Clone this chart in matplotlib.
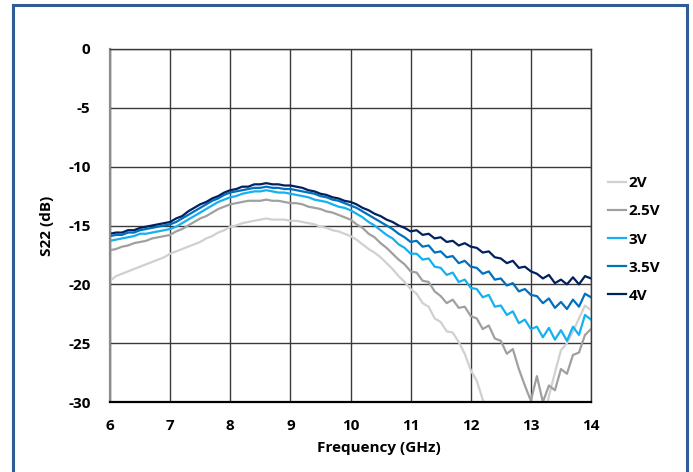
import numpy as np
import matplotlib
matplotlib.use("Agg")
import matplotlib.pyplot as plt
from matplotlib.patches import Rectangle

plt.rcParams["font.family"] = ["Open Sans", "DejaVu Sans"]
plt.rcParams["axes.unicode_minus"] = False

# frequency grid (GHz), one reading every 0.1 GHz
freq = np.round(np.arange(6.0, 14.001, 0.1), 1)

s22_2v = [
    -19.7, -19.3, -19.1, -18.9, -18.7, -18.5, -18.3, -18.1, -17.9, -17.7,
    -17.4, -17.2, -17.0, -16.8, -16.6, -16.4, -16.1, -15.9, -15.6, -15.4,
    -15.1, -15.0, -14.8, -14.7, -14.6, -14.5, -14.4, -14.5, -14.5, -14.5,
    -14.6, -14.6, -14.7, -14.8, -14.9, -15.1, -15.2, -15.4, -15.5, -15.7,
    -15.9, -16.2, -16.6, -17.0, -17.3, -17.7, -18.2, -18.7, -19.3, -19.8,
    -20.4, -20.8, -21.6, -21.9, -22.9, -23.2, -24.0, -24.1, -24.9, -25.9,
    -27.3, -28.2, -29.8, -31.5, -32.5, -33.0, -33.0, -33.0, -33.0, -33.0,
    -33.0, -32.5, -32.0, -29.5, -27.5, -25.6, -25.0, -24.0, -22.9, -21.8,
    -22.2,
]
s22_25v = [
    -17.1, -17.0, -16.8, -16.7, -16.5, -16.4, -16.3, -16.1, -16.0, -15.9,
    -15.8, -15.5, -15.3, -15.0, -14.7, -14.4, -14.2, -13.9, -13.6, -13.4,
    -13.2, -13.1, -13.0, -12.9, -12.9, -12.9, -12.8, -12.9, -12.9, -13.0,
    -13.1, -13.1, -13.2, -13.4, -13.5, -13.6, -13.8, -13.9, -14.1, -14.3,
    -14.5, -14.9, -15.2, -15.7, -16.0, -16.5, -16.9, -17.4, -17.9, -18.3,
    -18.9, -19.0, -19.7, -19.8, -20.6, -21.0, -21.6, -21.3, -22.0, -21.9,
    -22.7, -22.9, -23.8, -23.5, -24.6, -24.8, -25.9, -25.5, -27.2, -28.6,
    -29.9, -27.8, -30.0, -28.6, -29.0, -27.2, -27.6, -26.0, -25.8, -24.3,
    -23.8,
]
s22_3v = [
    -16.3, -16.2, -16.1, -16.0, -15.9, -15.7, -15.7, -15.6, -15.5, -15.4,
    -15.3, -15.1, -14.8, -14.5, -14.2, -13.9, -13.6, -13.3, -13.0, -12.8,
    -12.6, -12.5, -12.3, -12.2, -12.1, -12.1, -12.0, -12.1, -12.2, -12.2,
    -12.3, -12.4, -12.5, -12.6, -12.8, -12.9, -13.0, -13.2, -13.4, -13.5,
    -13.7, -14.0, -14.3, -14.7, -15.0, -15.4, -15.8, -16.1, -16.6, -16.9,
    -17.4, -17.4, -17.9, -17.8, -18.5, -18.6, -19.2, -19.0, -19.8, -19.6,
    -20.3, -20.4, -21.1, -20.9, -21.9, -21.8, -22.6, -22.3, -23.3, -23.0,
    -23.8, -23.6, -24.5, -23.7, -24.7, -23.9, -24.8, -23.6, -24.3, -22.6,
    -23.0,
]
s22_35v = [
    -15.9, -15.8, -15.8, -15.6, -15.6, -15.4, -15.3, -15.2, -15.1, -15.0,
    -14.9, -14.7, -14.4, -14.1, -13.8, -13.5, -13.2, -12.9, -12.7, -12.4,
    -12.2, -12.1, -12.0, -11.9, -11.8, -11.8, -11.7, -11.8, -11.8, -11.9,
    -11.9, -12.0, -12.1, -12.2, -12.3, -12.5, -12.6, -12.8, -12.9, -13.1,
    -13.3, -13.5, -13.8, -14.1, -14.4, -14.7, -15.0, -15.3, -15.7, -16.0,
    -16.4, -16.3, -16.8, -16.7, -17.3, -17.2, -17.7, -17.6, -18.2, -18.0,
    -18.5, -18.6, -19.1, -18.9, -19.6, -19.5, -20.1, -19.9, -20.6, -20.4,
    -20.9, -21.0, -21.6, -21.2, -22.0, -21.5, -22.1, -21.3, -21.9, -20.8,
    -21.1,
]
s22_4v = [
    -15.7, -15.6, -15.6, -15.4, -15.4, -15.2, -15.1, -15.0, -14.9, -14.8,
    -14.7, -14.4, -14.2, -13.8, -13.5, -13.2, -13.0, -12.7, -12.5, -12.2,
    -12.0, -11.9, -11.7, -11.7, -11.5, -11.5, -11.4, -11.5, -11.5, -11.6,
    -11.6, -11.7, -11.8, -12.0, -12.1, -12.3, -12.4, -12.6, -12.7, -12.9,
    -13.0, -13.2, -13.5, -13.7, -14.0, -14.2, -14.5, -14.7, -15.0, -15.2,
    -15.5, -15.4, -15.8, -15.7, -16.1, -16.0, -16.4, -16.3, -16.7, -16.5,
    -16.8, -16.9, -17.3, -17.2, -17.7, -17.8, -18.2, -18.0, -18.6, -18.5,
    -18.9, -19.1, -19.5, -19.2, -19.9, -19.6, -20.0, -19.4, -20.0, -19.3,
    -19.5,
]

labels = ["2V", "2.5V", "3V", "3.5V", "4V"]
series = [s22_2v, s22_25v, s22_3v, s22_35v, s22_4v]
colors = ["#D0D0D0", "#A0A0A0", "#14B0F0", "#0070C0", "#002060"]

W, H = 693, 472
fig = plt.figure(figsize=(W / 100, H / 100), dpi=100)
ax = fig.add_axes([110 / W, 1 - 402 / H, (591 - 110) / W, (402 - 49) / H])

for vals, lab, col in zip(series, labels, colors):
    ax.plot(freq, vals, color=col, lw=1.6, label=lab)

ax.set_xlim(6, 14)
ax.set_ylim(-30, 0)
ax.set_xticks(range(6, 15))
ax.set_yticks(range(-30, 1, 5))
ax.grid(True, color="#3a3a3a", lw=1.0)
ax.set_axisbelow(True)
ax.tick_params(length=0, labelsize=11)
ax.tick_params(axis="y", pad=14)
ax.tick_params(axis="x", pad=12)
for t in ax.get_xticklabels() + ax.get_yticklabels():
    t.set_fontweight("bold")
for s in ["top", "right"]:
    ax.spines[s].set_color("#3a3a3a")
    ax.spines[s].set_linewidth(1.0)
ax.spines["left"].set_color("#8c8c8c")
ax.spines["left"].set_linewidth(1.6)
ax.spines["bottom"].set_color("black")
ax.spines["bottom"].set_linewidth(1.6)

ax.set_xlabel("Frequency (GHz)", fontsize=11, fontweight="bold")
ax.xaxis.set_label_coords((379 - 110) / 481, -0.11)
ax.set_ylabel("S22 (dB)", fontsize=11, fontweight="bold", labelpad=10)

fig.legend(loc="center left", bbox_to_anchor=(600 / W, 1 - 239.5 / H),
           frameon=False, prop={"weight": "bold", "size": 11},
           handlelength=1.2, handletextpad=0.15, labelspacing=0.92,
           borderpad=0)

# outer frame (bottom edge runs off the image)
fig.add_artist(Rectangle((13 / W, -0.05), (687 - 13) / W, 1.05 - 5 / H,
                         transform=fig.transFigure, fill=False,
                         edgecolor="#2F5C94", lw=2.2))

fig.savefig("out.png", dpi=100)
